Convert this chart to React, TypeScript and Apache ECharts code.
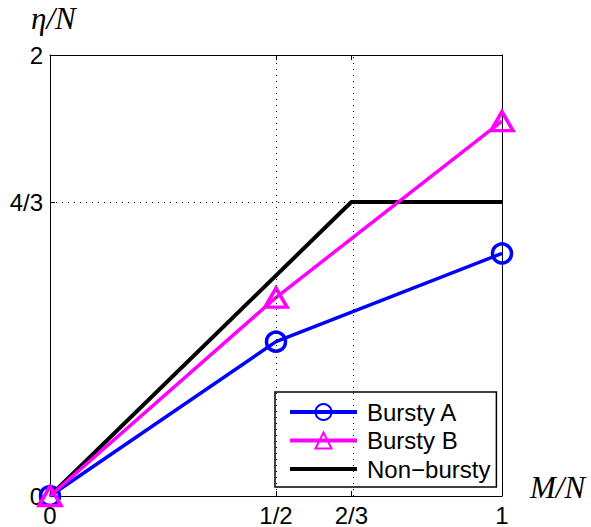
import React, { useEffect, useRef } from "react";
import * as echarts from "echarts";

const xTickValues = [0, 1 / 2, 2 / 3, 1];
const xTickLabels = ["0", "1/2", "2/3", "1"];
const yTickValues = [0, 4 / 3, 2];
const yTickLabels = ["0", "4/3", "2"];

const burstyA: [number, number][] = [[0, 0], [0.5, 0.7], [1, 1.1]];
const burstyB: [number, number][] = [[0, 0], [0.5, 0.9], [1, 1.7]];
const nonBursty: [number, number][] = [[0, 0], [2 / 3, 4 / 3], [1, 4 / 3]];

const FONT = "Liberation Sans";

function fmt(values: number[], labels: string[]) {
  return (v: number) => {
    for (let i = 0; i < values.length; i++) {
      if (Math.abs(v - values[i]) < 1e-6) return labels[i];
    }
    return "";
  };
}

export default function App() {
  const ref = useRef<HTMLDivElement>(null);
  useEffect(() => {
    if (!ref.current) return;
    const chart = echarts.init(ref.current, undefined, { renderer: "svg" });
    const tickCommon = { show: true, inside: true, length: 5, lineStyle: { color: "#000", width: 1 } };
    const lineCommon = { show: true, onZero: false, lineStyle: { color: "#000", width: 1 } };
    chart.setOption({
      animation: false,
      backgroundColor: "#fff",
      grid: { left: 50, top: 55, width: 452, height: 442, containLabel: false },
      xAxis: [
        {
          type: "value", min: 0, max: 1, position: "bottom",
          axisLine: lineCommon,
          axisTick: { ...tickCommon, customValues: xTickValues },
          axisLabel: { show: true, customValues: xTickValues, formatter: fmt(xTickValues, xTickLabels), color: "#000", fontFamily: FONT, fontSize: 24, margin: 7 },
          splitLine: { show: false },
        },
        {
          type: "value", min: 0, max: 1, position: "top",
          axisLine: lineCommon,
          axisTick: { ...tickCommon, customValues: xTickValues },
          axisLabel: { show: false },
          splitLine: { show: false },
        },
      ],
      yAxis: [
        {
          type: "value", min: 0, max: 2, position: "left",
          axisLine: lineCommon,
          axisTick: { ...tickCommon, customValues: yTickValues },
          axisLabel: { show: true, customValues: yTickValues, formatter: fmt(yTickValues, yTickLabels), color: "#000", fontFamily: FONT, fontSize: 24, margin: 7 },
          splitLine: { show: false },
        },
        {
          type: "value", min: 0, max: 2, position: "right",
          axisLine: lineCommon,
          axisTick: { ...tickCommon, customValues: yTickValues },
          axisLabel: { show: false },
          splitLine: { show: false },
        },
      ],
      legend: {
        orient: "vertical",
        left: 275,
        top: 392,
        padding: [8, 6, 6, 13],
        itemWidth: 67,
        itemHeight: 20,
        itemGap: 4.5,
        borderColor: "#000",
        borderWidth: 1.5,
        borderRadius: 0,
        backgroundColor: "#fff",
        textStyle: { fontFamily: FONT, fontSize: 24, color: "#000", padding: [0, 0, 0, 5] },
        data: [
          { name: "Bursty A", lineStyle: { width: 4 } },
          { name: "Bursty B", lineStyle: { width: 4 } },
          { name: "Non\u2212bursty", lineStyle: { width: 4 }, itemStyle: { opacity: 0 } },
        ],
      },
      series: [
        {
          name: "grid",
          type: "line",
          data: [],
          silent: true,
          markLine: {
            silent: true,
            symbol: "none",
            label: { show: false },
            lineStyle: { color: "#000", type: [1, 5], width: 1 },
            data: [{ xAxis: 0.5 }, { xAxis: 2 / 3 }, { yAxis: 4 / 3 }],
          },
        },
        {
          name: "Non\u2212bursty",
          type: "line",
          data: nonBursty,
          showSymbol: false,
          symbol: "none",
          lineStyle: { color: "#000", width: 4 },
          itemStyle: { color: "#000" },
          z: 3,
        },
        {
          name: "Bursty B",
          type: "line",
          data: burstyB,
          symbol: "triangle",
          symbolSize: [22, 19],
          lineStyle: { color: "#ff00ff", width: 3.5 },
          itemStyle: { color: "rgba(0,0,0,0)", borderColor: "#ff00ff", borderWidth: 3.5 },
          z: 4,
        },
        {
          name: "Bursty A",
          type: "line",
          data: burstyA,
          symbol: "circle",
          symbolSize: 19,
          lineStyle: { color: "#0000ff", width: 3.5 },
          itemStyle: { color: "rgba(0,0,0,0)", borderColor: "#0000ff", borderWidth: 3.5 },
          z: 2,
        },
      ],
      graphic: [
        {
          type: "text", left: 31, top: 3,
          style: { text: "\u03b7/N", fontFamily: "Liberation Serif", fontStyle: "italic", fontSize: 31, fill: "#000" },
        },
        {
          type: "text", left: 530, top: 472,
          style: { text: "M/N", fontFamily: "Liberation Serif", fontStyle: "italic", fontSize: 31, fill: "#000" },
        },
      ],
    });
    return () => chart.dispose();
  }, []);
  return (
    <div
      ref={ref}
      style={{ position: "absolute", left: 0, top: 0, width: 591, height: 527 }}
    />
  );
}
